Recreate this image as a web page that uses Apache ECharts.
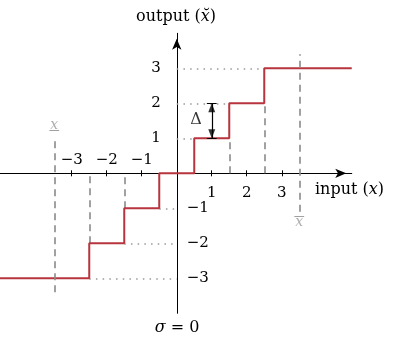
<!DOCTYPE html>
<html><head><meta charset="utf-8">
<script src="https://cdn.jsdelivr.net/npm/echarts@6/dist/echarts.min.js"></script>
<style>html,body{margin:0;padding:0;background:#fff}#c{width:398px;height:343px}</style>
</head><body><div id="c"></div>
<script>
// ---- data ----
const thresholds = [-2.5, -1.5, -0.5, 0.5, 1.5, 2.5];
const levels = [-3, -2, -1, 0, 1, 2, 3];
const inputRange = [-5.05, 5.0];
const outputRange = [-4, 4];
const xTickValues = [-3, -2, -1, 1, 2, 3];
const xLabelsAbove = [-3, -2, -1];
const xLabelsBelow = [1, 2, 3];
const yLabelsLeft = [1, 2, 3];
const yLabelsRight = [-1, -2, -3];
const clipLow = -3.5, clipHigh = 3.5;
const clipLowSpan = [-3.4, 0.95];
const clipHighSpan = [-1.1, 3.4];
const deltaX = 1, deltaFrom = 1, deltaTo = 2;

// ---- layout ----
const UNIT = 35;               // px per unit on both axes
const gridLeft = 0, gridTop = 33.3;
const gridW = (inputRange[1] - inputRange[0]) * UNIT;
const gridH = (outputRange[1] - outputRange[0]) * UNIT;
const offBottom = -(0 - outputRange[0]) * UNIT;
const offTop = -(outputRange[1] - 0) * UNIT;
const offLeft = -(0 - inputRange[0]) * UNIT;
const offRight = -(inputRange[1] - 0) * UNIT;

// ---- build ----
const SERIF = '"DejaVu Serif", serif';
const fmt = v => (v < 0 ? '\u2212' + Math.abs(v) : String(v));

const stepData = [[inputRange[0], levels[0]]];
thresholds.forEach((t, i) => stepData.push([t, levels[i + 1]]));
stepData.push([inputRange[1], levels[levels.length - 1]]);

const dotted = [], dashed = [];
thresholds.forEach((t, i) => {
  const lo = levels[i], hi = levels[i + 1];
  if (hi > 0) dotted.push({ coords: [[0, hi], [t, hi]] });
  if (lo < 0) dotted.push({ coords: [[t, lo], [0, lo]] });
  if (t > 0 && lo > 0) dashed.push({ coords: [[t, 0], [t, lo]] });
  if (t < 0 && hi < 0) dashed.push({ coords: [[t, hi], [t, 0]] });
});
const clipLines = [
  { coords: [[clipLow, clipLowSpan[0]], [clipLow, clipLowSpan[1]]] },
  { coords: [[clipHigh, clipHighSpan[0]], [clipHigh, clipHighSpan[1]]] }
];
const clipLabelY = [1.377, -1.406];
const clipBarY = [1.237, -1.24];
const clipBars = [
  { coords: [[clipLow - 0.14, clipBarY[0]], [clipLow + 0.14, clipBarY[0]]] },
  { coords: [[clipHigh - 0.14, clipBarY[1]], [clipHigh + 0.14, clipBarY[1]]] }
];
const deltaLines = [
  { coords: [[deltaX, deltaFrom], [deltaX, deltaTo]] },
  { coords: [[deltaX - 0.14, deltaFrom], [deltaX + 0.14, deltaFrom]] },
  { coords: [[deltaX - 0.14, deltaTo], [deltaX + 0.14, deltaTo]] }
];

const labelStyle = { fontFamily: SERIF, fontSize: 15, color: '#000' };
const xBase = { type: 'value', min: inputRange[0], max: inputRange[1], splitLine: { show: false } };
const yBase = { type: 'value', min: outputRange[0], max: outputRange[1], splitLine: { show: false } };
const clipLabel = { formatter: 'x', fontFamily: SERIF, fontStyle: 'italic', fontSize: 14, color: '#999' };

const chart = echarts.init(document.getElementById('c'));
chart.setOption({
  animation: false,
  backgroundColor: '#fff',
  grid: { left: gridLeft, top: gridTop, width: gridW, height: gridH, outerBoundsMode: 'none', containLabel: false },
  xAxis: [
    Object.assign({}, xBase, {
      position: 'bottom', offset: offBottom,
      axisLine: { onZero: false, symbol: ['none', 'arrow'], symbolSize: [7, 11], symbolOffset: [0, -5.5], lineStyle: { color: '#000', width: 1 } },
      axisTick: { show: true, customValues: xTickValues, length: 3, lineStyle: { color: '#000', width: 1 } },
      axisLabel: Object.assign({ customValues: xLabelsBelow, formatter: fmt, margin: 12 }, labelStyle)
    }),
    Object.assign({}, xBase, {
      position: 'top', offset: offTop,
      axisLine: { onZero: false, show: false },
      axisTick: { show: true, customValues: xTickValues, length: 3, lineStyle: { color: '#000', width: 1 } },
      axisLabel: Object.assign({ customValues: xLabelsAbove, formatter: fmt, margin: 6 }, labelStyle)
    })
  ],
  yAxis: [
    Object.assign({}, yBase, {
      position: 'left', offset: offLeft,
      axisLine: { onZero: false, symbol: ['none', 'arrow'], symbolSize: [7, 11], symbolOffset: [0, -5.5], lineStyle: { color: '#000', width: 1 } },
      axisTick: { show: false },
      axisLabel: Object.assign({ customValues: yLabelsLeft, formatter: fmt, margin: 16 }, labelStyle)
    }),
    Object.assign({}, yBase, {
      position: 'right', offset: offRight,
      axisLine: { onZero: false, show: false },
      axisTick: { show: false },
      axisLabel: Object.assign({ customValues: yLabelsRight, formatter: fmt, margin: 10 }, labelStyle)
    })
  ],
  series: [
    { type: 'lines', coordinateSystem: 'cartesian2d', z: 1, data: dotted,
      lineStyle: { color: '#999', width: 1.5, type: [1.5, 5.2], opacity: 1 } },
    { type: 'lines', coordinateSystem: 'cartesian2d', z: 1, data: dashed,
      lineStyle: { color: '#8a8a8a', width: 1.6, type: [7, 5], opacity: 1 } },
    { type: 'line', step: 'end', data: stepData, showSymbol: false, clip: false, z: 2,
      lineStyle: { color: '#b8343e', width: 2 } },
    { type: 'lines', coordinateSystem: 'cartesian2d', z: 3, data: clipLines,
      lineStyle: { color: '#8a8a8a', width: 1.6, type: [7, 5], opacity: 1 } },
    { type: 'lines', coordinateSystem: 'cartesian2d', z: 3, data: clipBars,
      lineStyle: { color: '#a0a0a0', width: 1, opacity: 1 } },
    { type: 'lines', coordinateSystem: 'cartesian2d', z: 4, data: deltaLines,
      lineStyle: { color: '#000', width: 1.2, opacity: 1 } },
    { type: 'scatter', z: 5, symbol: 'triangle', symbolSize: [7, 9], itemStyle: { color: '#000' },
      data: [
        { value: [deltaX, deltaTo], symbolRotate: 0, symbolOffset: [0, 4.5] },
        { value: [deltaX, deltaFrom], symbolRotate: 180, symbolOffset: [0, -4.5] }
      ] },
    { type: 'scatter', z: 5, symbolSize: 0, silent: true,
      label: { show: true, position: 'inside', color: '#000' },
      data: [
        { value: [0.55, 1.52], label: { formatter: '\u0394', fontFamily: SERIF, fontSize: 16 } },
        { value: [clipLow, clipLabelY[0]], label: clipLabel },
        { value: [clipHigh, clipLabelY[1]], label: clipLabel }
      ] }
  ],
  graphic: [
    { type: 'text', x: 176, y: 17, style: { text: '{t|output (}{i|x\u0306}{t|)}', align: 'center', verticalAlign: 'middle',
        rich: { t: { fontFamily: SERIF, fontSize: 16, fill: '#000' }, i: { fontFamily: SERIF, fontSize: 16, fontStyle: 'italic', fill: '#000' } } } },
    { type: 'text', x: 315, y: 190, style: { text: '{t|input (}{i|x}{t|)}', align: 'left', verticalAlign: 'middle',
        rich: { t: { fontFamily: SERIF, fontSize: 16, fill: '#000' }, i: { fontFamily: SERIF, fontSize: 16, fontStyle: 'italic', fill: '#000' } } } },
    { type: 'text', x: 177, y: 328, style: { text: '{i|\u03c3}{t| = 0}', align: 'center', verticalAlign: 'middle',
        rich: { t: { fontFamily: SERIF, fontSize: 16, fill: '#000' }, i: { fontFamily: SERIF, fontSize: 16, fontStyle: 'italic', fill: '#000' } } } }
  ]
});
</script>
</body></html>
